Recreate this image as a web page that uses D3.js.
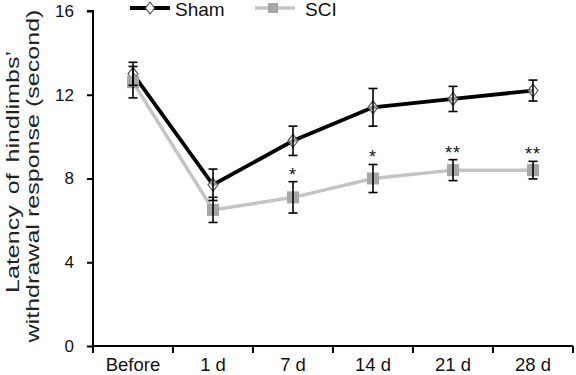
<!DOCTYPE html>
<html>
<head>
<meta charset="utf-8">
<script src="https://cdn.jsdelivr.net/npm/d3@7"></script>
<style>
  body { margin: 0; background: #fff; }
  svg text { font-family: Arial, "Liberation Sans", sans-serif; fill: #111; }
</style>
</head>
<body>
<svg id="chart"></svg>
<script>
const categories = ["Before", "1 d", "7 d", "14 d", "21 d", "28 d"];
const shamMean = [13.0, 7.7, 9.8, 11.4, 11.8, 12.2];
const shamErr = [0.55, 0.75, 0.7, 0.9, 0.6, 0.5];
const sciMean = [12.6, 6.5, 7.1, 8.0, 8.4, 8.4];
const sciErr = [0.75, 0.6, 0.75, 0.67, 0.5, 0.42];
const sigMarks = ["", "", "*", "*", "**", "**"];
const yTicks = [0, 4, 8, 12, 16];
const yTitle = ["Latency of hindlimbs\u2019", "withdrawal response (second)"];

const width = 576, height = 375;
const margin = { top: 11, right: 3, bottom: 29, left: 93 };

const svg = d3.select("#chart")
  .attr("width", width)
  .attr("height", height);

const x = d3.scaleBand()
  .domain(categories)
  .range([margin.left, width - margin.right])
  .padding(0);

const y = d3.scaleLinear()
  .domain([0, 16])
  .range([height - margin.bottom, margin.top]);

const cx = d => x(d) + x.bandwidth() / 2;

// y axis
const yAxis = svg.append("g")
  .attr("transform", `translate(${margin.left},0)`)
  .call(d3.axisLeft(y).tickValues(yTicks).tickSize(6).tickPadding(13));
yAxis.select(".domain").attr("stroke-width", 2).attr("d", `M-6,${y(16)}H0V${y(0)}`);
yAxis.selectAll(".tick line").attr("stroke-width", 2);
yAxis.selectAll(".tick text").style("font-size", "17px");

// x axis: ticks at band edges
const edges = categories.map(c => x(c)).concat([x.range()[1]]);
const xAxis = svg.append("g")
  .attr("transform", `translate(0,${y(0)})`);
xAxis.append("line")
  .attr("x1", margin.left).attr("x2", x.range()[1])
  .attr("stroke", "#000").attr("stroke-width", 2);
xAxis.selectAll(".edge").data(edges).enter().append("line")
  .attr("class", "edge")
  .attr("x1", d => d).attr("x2", d => d)
  .attr("y1", 0).attr("y2", 7)
  .attr("stroke", "#000").attr("stroke-width", 2);
xAxis.selectAll(".lbl").data(categories).enter().append("text")
  .attr("class", "lbl")
  .attr("x", d => cx(d))
  .attr("y", 25)
  .attr("text-anchor", "middle")
  .style("font-size", "18.5px")
  .text(d => d);

// y label: two lines, same horizontal stretch so they look alike
const titleX = [19, 39];
const titleY = [172, 176];
const titleWordSpacing = [3, 0];
yTitle.forEach((t, i) => {
  svg.append("text")
    .attr("transform", `translate(${titleX[i]},${titleY[i]}) rotate(-90) scale(1.32,1)`)
    .attr("text-anchor", "middle")
    .style("font-size", "19px")
    .style("word-spacing", titleWordSpacing[i] + "px")
    .style("fill", "#222")
    .text(t);
});

const line = d3.line()
  .x((d, i) => cx(categories[i]))
  .y(d => y(d));

// SCI line (behind)
svg.append("path")
  .datum(sciMean)
  .attr("fill", "none")
  .attr("stroke", "#c4c4c4")
  .attr("stroke-width", 3.5)
  .attr("d", line);

// Sham line
svg.append("path")
  .datum(shamMean)
  .attr("fill", "none")
  .attr("stroke", "#000")
  .attr("stroke-width", 3.8)
  .attr("d", line);

const diamond = (px, py, w, h) => `M${px},${py - h}L${px + w},${py}L${px},${py + h}L${px - w},${py}Z`;

// Sham markers
svg.selectAll(".sham-pt").data(shamMean).enter().append("path")
  .attr("class", "sham-pt")
  .attr("d", (d, i) => diamond(cx(categories[i]), y(d), 5, 6.5))
  .attr("fill", "#fff")
  .attr("fill-opacity", 0.6)
  .attr("stroke", "#555")
  .attr("stroke-width", 1.2);

// SCI markers
const sq = 12;
svg.selectAll(".sci-pt").data(sciMean).enter().append("rect")
  .attr("class", "sci-pt")
  .attr("x", (d, i) => cx(categories[i]) - sq / 2)
  .attr("y", d => y(d) - sq / 2)
  .attr("width", sq).attr("height", sq)
  .attr("fill", "#a6a6a6");

// error bars
function errorBars(means, errs) {
  const g = svg.append("g").attr("stroke", "#000").attr("stroke-width", 1.6);
  means.forEach((m, i) => {
    const px = cx(categories[i]);
    const top = y(m + errs[i]), bot = y(m - errs[i]);
    g.append("line").attr("x1", px).attr("x2", px).attr("y1", top).attr("y2", bot);
    g.append("line").attr("x1", px - 4.5).attr("x2", px + 4.5).attr("y1", top).attr("y2", top);
    g.append("line").attr("x1", px - 4.5).attr("x2", px + 4.5).attr("y1", bot).attr("y2", bot);
  });
}
errorBars(sciMean, sciErr);
errorBars(shamMean, shamErr);

// significance marks
svg.selectAll(".sig").data(sigMarks).enter().append("text")
  .attr("class", "sig")
  .attr("x", (d, i) => cx(categories[i]))
  .attr("y", (d, i) => y(sciMean[i] + sciErr[i]) - 1)
  .attr("text-anchor", "middle")
  .style("font-size", "18px")
  .style("letter-spacing", "1px")
  .text(d => d);

// legend
const lg = svg.append("g");
lg.append("line").attr("x1", 130).attr("x2", 170).attr("y1", 8).attr("y2", 8)
  .attr("stroke", "#000").attr("stroke-width", 3.8);
lg.append("path").attr("d", diamond(150, 8, 4.5, 6))
  .attr("fill", "#fff").attr("stroke", "#555").attr("stroke-width", 1.2);
lg.append("text").attr("x", 175).attr("y", 16).style("font-size", "19px").text("Sham");
lg.append("line").attr("x1", 255).attr("x2", 295).attr("y1", 8).attr("y2", 8)
  .attr("stroke", "#c4c4c4").attr("stroke-width", 3.5);
lg.append("rect").attr("x", 268).attr("y", 3).attr("width", 10).attr("height", 10)
  .attr("fill", "#a6a6a6");
lg.append("text").attr("x", 305).attr("y", 16).style("font-size", "19px").text("SCI");
</script>
</body>
</html>
